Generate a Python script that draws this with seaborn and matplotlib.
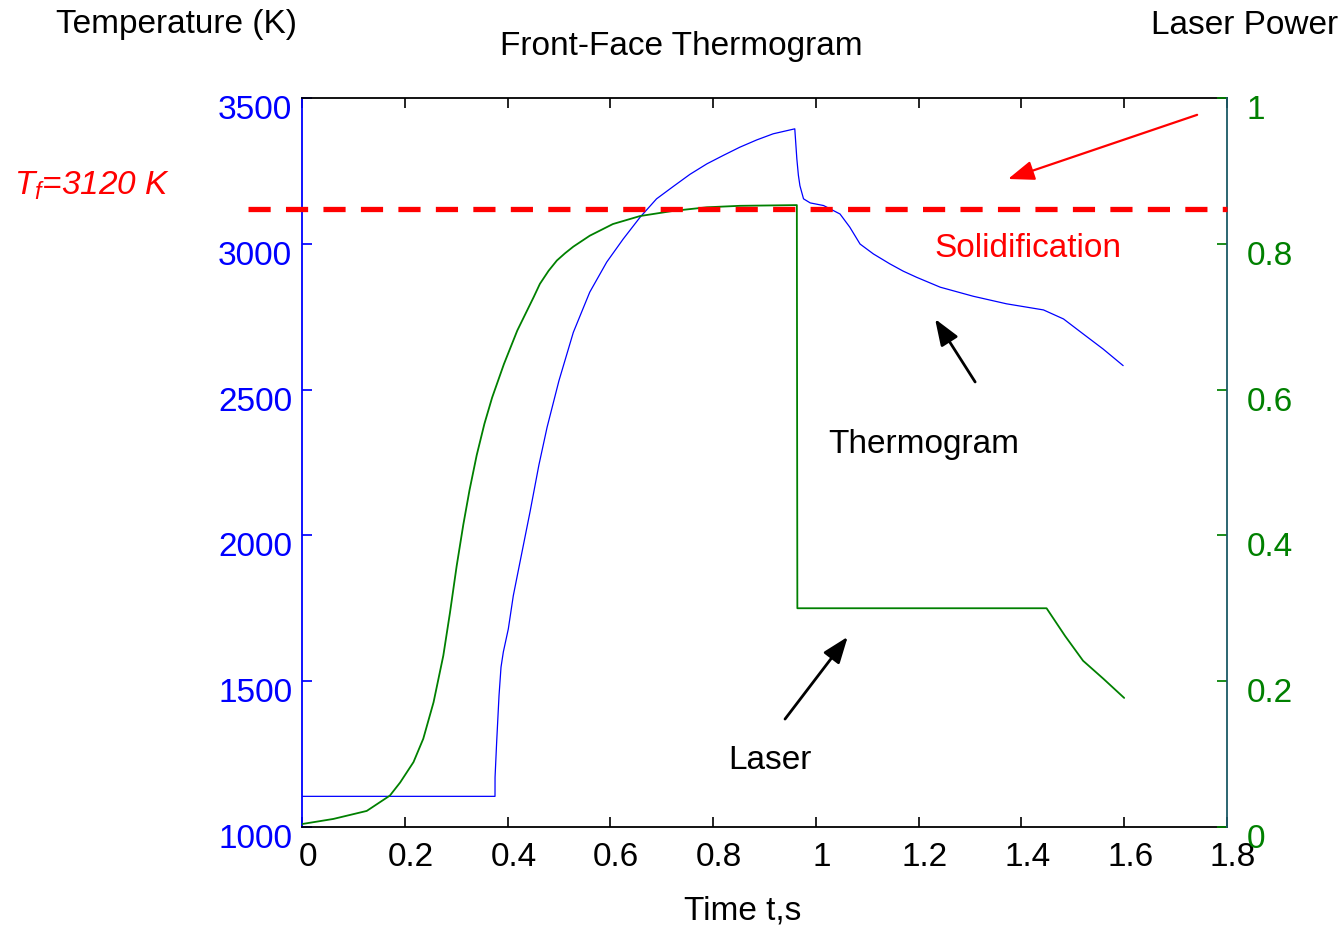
import numpy as np
import pandas as pd
import seaborn as sns
import matplotlib
matplotlib.use("Agg")
import matplotlib.pyplot as plt
from matplotlib.ticker import FixedLocator, FixedFormatter
from matplotlib.transforms import ScaledTranslation

# thermogram (blue, left axis)
t_thermo = [0.0, 0.3756, 0.3757, 0.3788, 0.3834, 0.3873, 0.3918, 0.4015, 0.4112, 0.4243,
            0.4437, 0.461, 0.477, 0.500, 0.528, 0.560, 0.593, 0.625, 0.658, 0.690,
            0.723, 0.755, 0.788, 0.820, 0.852, 0.885, 0.917, 0.959, 0.963, 0.966,
            0.969, 0.976, 0.989, 1.015, 1.047, 1.066, 1.086, 1.112, 1.144, 1.170,
            1.196, 1.242, 1.306, 1.371, 1.443, 1.482, 1.520, 1.559, 1.598]
temp_thermo = [1105, 1105, 1170, 1290, 1450, 1548, 1600, 1679, 1793, 1909,
               2080, 2241, 2371, 2530, 2696, 2834, 2937, 3016, 3091, 3154,
               3197, 3238, 3274, 3303, 3331, 3356, 3377, 3394, 3291, 3235,
               3199, 3154, 3140, 3131, 3102, 3057, 2999, 2965, 2931, 2906,
               2885, 2851, 2820, 2794, 2773, 2742, 2691, 2639, 2582]

# laser power (green, right axis)
t_laser = [0.0, 0.061, 0.126, 0.171, 0.191, 0.217, 0.236, 0.256, 0.275, 0.288,
           0.301, 0.314, 0.326, 0.340, 0.355, 0.370, 0.393, 0.419, 0.451, 0.463,
           0.480, 0.496, 0.512, 0.528, 0.560, 0.605, 0.658, 0.722, 0.788, 0.852,
           0.963, 0.964, 1.449, 1.485, 1.520, 1.560, 1.600]
laser_power = [0.004, 0.011, 0.022, 0.043, 0.061, 0.089, 0.121, 0.171, 0.235, 0.294,
               0.358, 0.415, 0.462, 0.510, 0.553, 0.589, 0.635, 0.681, 0.727, 0.745,
               0.763, 0.777, 0.787, 0.796, 0.811, 0.827, 0.838, 0.845, 0.850, 0.852,
               0.853, 0.300, 0.300, 0.262, 0.228, 0.203, 0.177]

t_melt = 3120
temp_ticks = [1000, 1500, 2000, 2500, 3000, 3500]
power_ticks = [0, 0.2, 0.4, 0.6, 0.8, 1]
power_labels = ['0', '0.2', '0.4', '0.6', '0.8', '1']
time_ticks = [0, 0.2, 0.4, 0.6, 0.8, 1, 1.2, 1.4, 1.6, 1.8]
time_labels = ['0', '0.2', '0.4', '0.6', '0.8', '1', '1.2', '1.4', '1.6', '1.8']

sns.set_theme(style="ticks")
plt.rcParams['font.family'] = ['Liberation Sans', 'DejaVu Sans']
plt.rcParams['text.color'] = 'black'
plt.rcParams['mathtext.fontset'] = 'custom'
plt.rcParams['mathtext.rm'] = 'Liberation Sans'
plt.rcParams['mathtext.it'] = 'Liberation Sans:italic'

GREEN = (0, 0.5, 0)
FS = 24

fig = plt.figure(figsize=(13.44, 9.28), dpi=100)
ax = fig.add_axes([0.2247, 0.1078, 0.6882, 0.7856])
ax2 = ax.twinx()

sns.lineplot(x=t_thermo, y=temp_thermo, ax=ax, color='blue', lw=0.9, sort=False)
sns.lineplot(x=t_laser, y=laser_power, ax=ax2, color=GREEN, lw=1.3, sort=False)

ax.set_xlim(0, 1.8)
ax.set_ylim(1000, 3500)
ax2.set_ylim(0, 1)
ax.set_xlabel('')
ax.set_ylabel('')
ax2.set_ylabel('')

ax.xaxis.set_major_locator(FixedLocator(time_ticks))
ax.xaxis.set_major_formatter(FixedFormatter(time_labels))
ax.yaxis.set_major_locator(FixedLocator(temp_ticks))
ax.yaxis.set_major_formatter(FixedFormatter([str(v) for v in temp_ticks]))
ax2.yaxis.set_major_locator(FixedLocator(power_ticks))
ax2.yaxis.set_major_formatter(FixedFormatter(power_labels))

ax.tick_params(axis='x', direction='in', top=True, length=7, width=1.2,
               labelsize=FS, pad=10, colors='black')
ax.tick_params(axis='y', direction='in', left=True, right=False, length=7,
               labelsize=FS, pad=7, colors='blue')
ax2.tick_params(axis='y', direction='in', right=True, left=False, length=7,
                labelsize=FS, pad=14, colors=GREEN)

for s in ['top', 'bottom']:
    ax.spines[s].set_color('black')
    ax.spines[s].set_linewidth(1.3)
ax.spines['left'].set_color('blue')
ax.spines['left'].set_linewidth(1.3)
ax.spines['right'].set_visible(False)
for s in ['top', 'bottom', 'left']:
    ax2.spines[s].set_visible(False)
ax2.spines['right'].set_color((0.1, 0.35, 0.4))
ax2.spines['right'].set_linewidth(1.3)

# shift tick labels slightly (matlab-like placement)
down = ScaledTranslation(0, -0.08, fig.dpi_scale_trans)
for lbl in ax.get_yticklabels() + ax2.get_yticklabels():
    lbl.set_transform(lbl.get_transform() + down)
right = ScaledTranslation(0.06, 0, fig.dpi_scale_trans)
for lbl in ax.get_xticklabels():
    lbl.set_transform(lbl.get_transform() + right)

# melting temperature line
ax2.plot([-0.105, 1.8], [t_melt, t_melt], transform=ax.transData, color='red',
         lw=3.8, linestyle=(0, (4.2, 2.9)), clip_on=False, zorder=5)

# annotations
ax2.text(1.413, 2986, 'Solidification', transform=ax.transData, color='red',
         fontsize=FS, ha='center', va='center')
ax2.text(1.210, 2314, 'Thermogram', transform=ax.transData, color='black',
         fontsize=FS, ha='center', va='center')
ax2.text(0.911, 1230, 'Laser', transform=ax.transData, color='black',
         fontsize=FS, ha='center', va='center')

head = '-|>,head_length=0.8,head_width=0.3'
ax2.annotate('', xy=(1.374, 3222), xytext=(1.742, 3442), xycoords=ax.transData,
             textcoords=ax.transData,
             arrowprops=dict(arrowstyle=head, color='red', lw=1.6, mutation_scale=20,
                             shrinkA=0, shrinkB=0))
ax2.annotate('', xy=(1.232, 2742), xytext=(1.310, 2526), xycoords=ax.transData,
             textcoords=ax.transData,
             arrowprops=dict(arrowstyle=head, color='black', lw=2, mutation_scale=20,
                             shrinkA=0, shrinkB=0))
ax2.annotate('', xy=(1.062, 1652), xytext=(0.940, 1370), xycoords=ax.transData,
             textcoords=ax.transData,
             arrowprops=dict(arrowstyle=head, color='black', lw=2, mutation_scale=20,
                             shrinkA=0, shrinkB=0))

# outer labels
fig.text(177 / 1344, 1 - 25 / 928, 'Temperature (K)', fontsize=FS, ha='center', va='center')
fig.text(1338 / 1344, 1 - 25 / 928, 'Laser Power', fontsize=FS, ha='right', va='center')
fig.text(681 / 1344, 1 - 46 / 928, 'Front-Face Thermogram', fontsize=FS, ha='center', va='center')
fig.text(743 / 1344, 1 - 911 / 928, 'Time t,s', fontsize=FS, ha='center', va='center')
fig.text(92 / 1344, 1 - 186 / 928, r'$T_f$=3120 K', fontsize=FS, color='red',
         style='italic', ha='center', va='center')

fig.savefig('out.png', dpi=100)
